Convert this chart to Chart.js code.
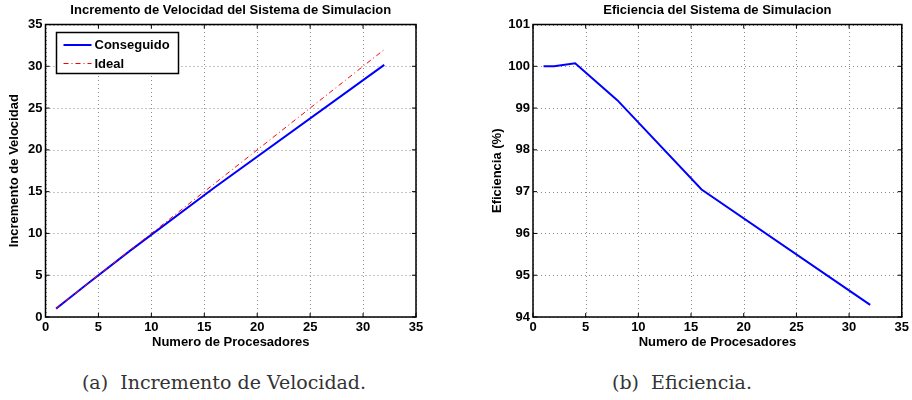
<!DOCTYPE html>
<html>
<head>
<meta charset="utf-8">
<script src="https://cdn.jsdelivr.net/npm/chart.js@4"></script>
<style>
  body { margin: 0; background: #fff; }
  .box { position: absolute; top: 0; width: 456px; height: 352px; }
  .cap { position: absolute; top: 370px; width: 456px; text-align: center;
         font-family: "DejaVu Serif", serif; font-size: 19px; line-height: 24px; color: #333; }
</style>
</head>
<body>
<div class="box" style="left:0"><canvas id="speedChart" width="456" height="352"></canvas></div>
<div class="box" style="left:456px"><canvas id="effChart" width="456" height="352"></canvas></div>
<div class="cap" style="left:-4px">(a)&nbsp; Incremento de Velocidad.</div>
<div class="cap" style="left:454px">(b)&nbsp; Eficiencia.</div>
<script>
const procesadores = [1, 2, 4, 8, 16, 32];
const conseguido = [1, 2, 4.003, 7.94, 15.53, 30.17];
const ideal = [1, 2, 4, 8, 16, 32];
const eficiencia = [100, 100, 100.07, 99.19, 97.05, 94.29];

const FONT = "'Liberation Sans', Arial, sans-serif";
const bold = size => ({ family: FONT, size: size, weight: 'bold' });

function toPoints(xs, ys) {
    return xs.map((x, i) => ({ x: x, y: ys[i] }));
}

// title centred over the plot area (MATLAB style)
const axesTitle = {
    id: 'axesTitle',
    afterDraw(chart) {
        const text = chart.options.plugins.axesTitle;
        if (!text) return;
        const { ctx, chartArea: a } = chart;
        ctx.save();
        ctx.fillStyle = '#000';
        ctx.font = 'bold 13px ' + FONT;
        ctx.textAlign = 'center';
        ctx.textBaseline = 'middle';
        ctx.fillText(text, (a.left + a.right) / 2, a.top - 14);
        ctx.restore();
    }
};

// dotted grid, drawn under the lines
const gridPlugin = {
    id: 'dotGrid',
    beforeDatasetsDraw(chart) {
        const { ctx, chartArea: a, scales } = chart;
        ctx.save();
        ctx.strokeStyle = '#8a8a8a';
        ctx.lineWidth = 1;
        ctx.setLineDash([1, 3]);
        scales.x.ticks.forEach(t => {
            const px = Math.round(scales.x.getPixelForValue(t.value)) + 0.5;
            ctx.beginPath();
            ctx.moveTo(px, a.bottom); ctx.lineTo(px, a.top);
            ctx.stroke();
        });
        scales.y.ticks.forEach(t => {
            const py = Math.round(scales.y.getPixelForValue(t.value)) + 0.5;
            ctx.beginPath();
            ctx.moveTo(a.left, py); ctx.lineTo(a.right, py);
            ctx.stroke();
        });
        ctx.restore();
    }
};

// MATLAB style box + inward ticks
const boxPlugin = {
    id: 'matlabBox',
    afterDatasetsDraw(chart) {
        const { ctx, chartArea: a, scales } = chart;
        ctx.save();
        ctx.strokeStyle = '#000';
        ctx.lineWidth = 1;
        const len = 4;
        scales.x.ticks.forEach(t => {
            const px = scales.x.getPixelForValue(t.value);
            ctx.beginPath();
            ctx.moveTo(px, a.bottom); ctx.lineTo(px, a.bottom - len);
            ctx.moveTo(px, a.top); ctx.lineTo(px, a.top + len);
            ctx.stroke();
        });
        scales.y.ticks.forEach(t => {
            const py = scales.y.getPixelForValue(t.value);
            ctx.beginPath();
            ctx.moveTo(a.left, py); ctx.lineTo(a.left + len, py);
            ctx.moveTo(a.right, py); ctx.lineTo(a.right - len, py);
            ctx.stroke();
        });
        ctx.lineWidth = 1.5;
        ctx.strokeRect(a.left, a.top, a.right - a.left, a.bottom - a.top);
        ctx.restore();
    }
};

// legend box inside the plot, top left
const legendBox = {
    id: 'legendBox',
    afterDraw(chart) {
        if (!chart.options.plugins.legendBox) return;
        const { ctx, chartArea: a } = chart;
        const x0 = a.left + 11, y0 = a.top + 8;
        ctx.save();
        ctx.fillStyle = '#fff';
        ctx.fillRect(x0, y0, 122, 41);
        ctx.strokeStyle = '#000';
        ctx.lineWidth = 1.5;
        ctx.strokeRect(x0, y0, 122, 41);
        const rows = [12.5, 31];
        chart.data.datasets.forEach((ds, i) => {
            const y = y0 + rows[i];
            ctx.beginPath();
            ctx.strokeStyle = ds.borderColor;
            ctx.lineWidth = ds.borderWidth;
            ctx.setLineDash(ds.borderDash || []);
            ctx.moveTo(x0 + 7, y); ctx.lineTo(x0 + 35, y);
            ctx.stroke();
            ctx.setLineDash([]);
            ctx.fillStyle = '#000';
            ctx.font = 'bold 13px ' + FONT;
            ctx.textBaseline = 'middle';
            ctx.fillText(ds.label, x0 + 38, y + 0.5);
        });
        ctx.restore();
    }
};

function makeChart(id, datasets, cfg) {
    return new Chart(document.getElementById(id), {
        type: 'line',
        data: { datasets },
        plugins: [gridPlugin, boxPlugin, legendBox, axesTitle],
        options: {
            responsive: false,
            animation: false,
            layout: { padding: { left: 0, right: cfg.right, top: 24.5, bottom: 0 } },
            plugins: {
                legend: { display: false },
                tooltip: { enabled: false },
                title: { display: false },
                legendBox: cfg.legend,
                axesTitle: cfg.title
            },
            scales: {
                x: {
                    type: 'linear', min: 0, max: 35,
                    ticks: { stepSize: 5, color: '#000', font: bold(13), padding: 3, maxRotation: 0 },
                    grid: { display: false, drawTicks: false },
                    border: { display: false },
                    title: { display: true, text: 'Numero de Procesadores', color: '#000', font: bold(13), padding: { top: 0, bottom: 2 } },
                    afterFit: s => { s.height = 35; }
                },
                y: {
                    min: cfg.ymin, max: cfg.ymax,
                    ticks: { stepSize: cfg.ystep, color: '#000', font: bold(13), padding: 3 },
                    grid: { display: false, drawTicks: false },
                    border: { display: false },
                    title: { display: true, text: cfg.ytitle, color: '#000', font: bold(13), padding: { top: cfg.ytpad, bottom: 0 } },
                    afterFit: s => { s.width = cfg.yw; }
                }
            }
        }
    });
}

makeChart('speedChart', [
    {
        label: 'Conseguido', data: toPoints(procesadores, conseguido),
        borderColor: '#0000ff', borderWidth: 2, pointRadius: 0, order: 1
    },
    {
        label: 'Ideal', data: toPoints(procesadores, ideal),
        borderColor: '#ff0000', borderWidth: 1, borderDash: [5, 3, 1, 3], pointRadius: 0, order: 0
    }
], {
    title: 'Incremento de Velocidad del Sistema de Simulacion',
    ytitle: 'Incremento de Velocidad', ymin: 0, ymax: 35, ystep: 5,
    yw: 45.5, ytpad: 7, right: 40, legend: true
});

makeChart('effChart', [
    {
        label: 'Eficiencia', data: toPoints(procesadores, eficiencia),
        borderColor: '#0000ff', borderWidth: 2, pointRadius: 0
    }
], {
    title: 'Eficiencia del Sistema de Simulacion',
    ytitle: 'Eficiencia (%)', ymin: 94, ymax: 101, ystep: 1,
    yw: 77, ytpad: 34, right: 9, legend: false
});
</script>
</body>
</html>
